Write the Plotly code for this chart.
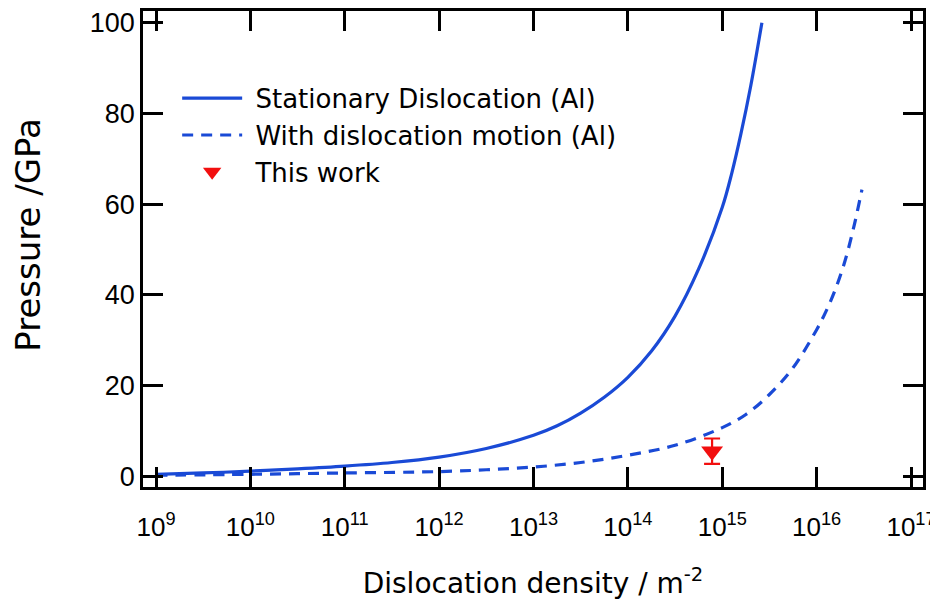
import plotly.graph_objects as go

# ---- data ----
stationary_density = [1e9, 3.16e9, 1e10, 3.16e10, 1e11, 3.16e11, 1e12, 3.16e12, 1e13, 1.78e13,
                      3.16e13, 5.62e13, 1e14, 1.78e14, 3.16e14, 5.62e14, 1e15, 1.26e15,
                      1.58e15, 2.0e15, 2.63e15]
stationary_pressure = [0.4, 0.7, 1.1, 1.6, 2.2, 3.0, 4.2, 6.1, 9.0, 11.1,
                       13.9, 17.4, 21.8, 27.6, 35.3, 45.7, 59.3, 66.8,
                       75.6, 86.0, 100.0]

motion_density = [1e9, 1e10, 1e11, 1e12, 3.16e12, 1e13, 3.16e13, 1e14, 3.16e14, 1e15,
                  1.78e15, 3.16e15, 5.62e15, 1e16, 1.26e16, 1.58e16, 2.0e16, 2.51e16, 3.02e16]
motion_pressure = [0.2, 0.4, 0.7, 1.0, 1.4, 2.0, 3.0, 4.6, 6.8, 10.7,
                   13.6, 18.0, 23.9, 32.3, 36.4, 41.2, 47.5, 55.5, 63.2]

work_density = [7.8e14]
work_pressure = [5.5]
work_error = [2.8]

x_tick_exponents = [9, 10, 11, 12, 13, 14, 15, 16, 17]
x_tick_values = [1e9, 1e10, 1e11, 1e12, 1e13, 1e14, 1e15, 1e16, 1e17]
x_tick_labels = ["10<sup>%d</sup>" % e for e in x_tick_exponents]
y_tick_values = [0, 20, 40, 60, 80, 100]

blue = "#1A4AD6"
red = "#F20F0F"

fig = go.Figure()
fig.add_trace(go.Scatter(x=stationary_density, y=stationary_pressure, mode="lines",
                         name="\u00a0Stationary Dislocation (Al)",
                         line=dict(color=blue, width=3.2, shape="spline")))
fig.add_trace(go.Scatter(x=motion_density, y=motion_pressure, mode="lines",
                         name="\u00a0With dislocation motion (Al)",
                         line=dict(color=blue, width=3.2, dash="11px,8px", shape="spline")))
fig.add_trace(go.Scatter(x=work_density, y=work_pressure, mode="markers",
                         name="\u00a0This work",
                         marker=dict(symbol="triangle-down", size=19, color=red),
                         error_y=dict(type="data", array=work_error, visible=True,
                                      color=red, thickness=2.2, width=8)))

tick_font_x = dict(family="Liberation Sans, Arial, sans-serif", size=26, color="black")
tick_font_y = dict(family="Liberation Sans, Arial, sans-serif", size=27, color="black")

# the page body adds an 8px offset, so the figure is sized to fill the rest of the window
fig.update_layout(
    width=930, height=594,
    margin=dict(l=135, r=15, t=0, b=115),
    paper_bgcolor="white", plot_bgcolor="white",
    showlegend=True,
    legend=dict(x=0.0438, y=0.866, xanchor="left", yanchor="top",
                bgcolor="rgba(0,0,0,0)", itemwidth=60,
                font=dict(family="DejaVu Sans, sans-serif", size=26, color="black"),
                tracegroupgap=0),
    annotations=[dict(text="Pressure /GPa", textangle=-90, showarrow=False,
                      xref="paper", yref="paper", x=-0.1474, y=0.53,
                      xanchor="center", yanchor="middle",
                      font=dict(family="DejaVu Sans, sans-serif", size=34, color="black"))],
)
fig.update_xaxes(
    type="log", range=[8.862, 17.127],
    tickvals=x_tick_values, ticktext=x_tick_labels, tickfont=tick_font_x,
    ticks="inside", ticklen=20, tickwidth=2.5, tickcolor="black", ticklabelstandoff=15,
    showline=True, linewidth=2.5, linecolor="black", mirror="ticks",
    showgrid=False, zeroline=False,
    title=dict(text="Dislocation density / m<sup>-2</sup>",
               font=dict(family="DejaVu Sans, sans-serif", size=28, color="black"),
               standoff=33),
)
fig.update_yaxes(
    range=[-2.4, 102.6],
    tickvals=y_tick_values, tickfont=tick_font_y,
    ticks="inside", ticklen=20, tickwidth=2.5, tickcolor="black",
    showline=True, linewidth=2.5, linecolor="black", mirror="ticks",
    showgrid=False, zeroline=False,
)

fig.write_html("out.html")
